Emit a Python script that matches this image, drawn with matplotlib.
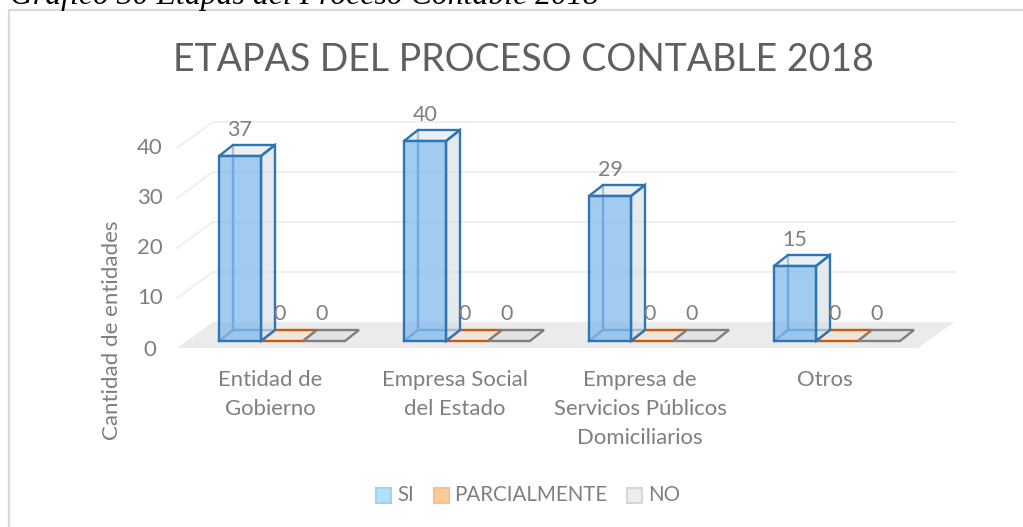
import matplotlib
matplotlib.use("Agg")
import matplotlib.pyplot as plt
from matplotlib.patches import Polygon, Rectangle
from matplotlib.lines import Line2D

W, H = 1023, 527
categories = ["Entidad de\nGobierno", "Empresa Social\ndel Estado",
              "Empresa de\nServicios Públicos\nDomiciliarios", "Otros"]
series_names = ["SI", "PARCIALMENTE", "NO"]
si = [37, 40, 29, 15]
parcial = [0, 0, 0, 0]
no = [0, 0, 0, 0]
y_ticks = [0, 10, 20, 30, 40]
title = "ETAPAS DEL PROCESO CONTABLE 2018"
caption = "Gráfico 30 Etapas del Proceso Contable 2018"
y_label = "Cantidad de entidades"

plt.rcParams["font.family"] = ["Lato", "DejaVu Sans"]
fig = plt.figure(figsize=(W / 100, H / 100), dpi=100, facecolor="white")
ax = fig.add_axes([0, 0, 1, 1])

PX_X, PX_Y = 185.0, 5.0     # pixels per category / per value unit
X0, Y0 = 282.0, 341.0       # pixel of category 0 / value 0
ax.set_xlim((0 - X0) / PX_X, (W - X0) / PX_X)
ax.set_ylim((Y0 - H) / PX_Y, (Y0 - 0) / PX_Y)
ax.axis("off")

def dx(px): return px / PX_X
def dy(px): return px / PX_Y   # upward pixels

TXT = "#7f7f7f"
# frame (left and top only)
ax.add_line(Line2D([dx(9.0 - X0)] * 2 + [dx(1023 - X0)],
                   [dy(Y0 - 527), dy(Y0 - 10), dy(Y0 - 10)],
                   color="#d9d9d9", lw=1.6, zorder=1))

# floor
fl = [(177, 348), (918, 348), (955, 322), (213, 322)]
ax.add_patch(Polygon([(dx(p - X0), dy(Y0 - q)) for p, q in fl],
                     fc="#ebebeb", ec="none", zorder=1))
# gridlines: side wall + back wall
for t in y_ticks[1:]:
    yf = t + dy(-7)
    yb = t + dy(19)
    ax.plot([dx(177 - X0), dx(213 - X0), dx(955 - X0)], [yf, yb, yb],
            color="#eeeeee", lw=1.3, zorder=1, solid_joinstyle="miter")
for t in y_ticks:
    ax.text(dx(150 - X0), t + dy(-7 if t else -8.5), str(t), ha="center",
            va="center", color=TXT, fontsize=16)

BW = 42 / PX_X
OX, OY = dx(14), dy(11)
BLUE, ORANGE, GREY = "#2e75b6", "#c55a11", "#7f7f7f"
STYLE = [(BLUE, "#7db7ea"), (ORANGE, "#f2e6dc"), (GREY, "#e2e2e2")]

def bar3d(x, v, edge, face):
    lw = 1.7
    l, r = x, x + BW
    if v > 0:
        back = "#4a8cc9"
        ax.plot([l + OX, l + OX], [OY, v + OY], color=back, lw=lw, zorder=3)
        ax.plot([l, l + OX, r + OX], [0, OY, OY], color=back, lw=lw, zorder=3)
        ax.add_patch(Polygon([(r, 0), (r + OX, OY), (r + OX, v + OY), (r, v)], fc="#d5dde3",
                             alpha=.6, ec="none", zorder=4))
        ax.add_patch(Polygon([(l, v), (r, v), (r + OX, v + OY), (l + OX, v + OY)], fc="#dfe7ec",
                             alpha=.6, ec="none", zorder=4))
        ax.add_patch(Polygon([(r, 0), (r + OX, OY), (r + OX, v + OY), (r, v)], fc="none",
                             ec=edge, lw=lw, zorder=5, joinstyle="miter"))
        ax.add_patch(Polygon([(l, v), (r, v), (r + OX, v + OY), (l + OX, v + OY)], fc="none",
                             ec=edge, lw=lw, zorder=5, joinstyle="miter"))
        ax.add_patch(Rectangle((l, 0), BW, v, fc=face, alpha=.72, ec="none", zorder=5))
        ax.add_patch(Rectangle((l, 0), BW, v, fc="none", ec=edge, lw=lw, zorder=6, joinstyle="miter"))
    else:
        ax.add_patch(Polygon([(l, 0), (r, 0), (r + OX, OY), (l + OX, OY)], fc=face,
                             ec=edge, lw=lw, zorder=3, joinstyle="miter"))

for i in range(len(categories)):
    start = i - 1.5 * BW
    for k, vals in enumerate((si, parcial, no)):
        x = start + k * BW
        bar3d(x, vals[i], *STYLE[k])
        ax.text(x + BW / 2 + dx(0 if vals[i] else -2), vals[i] + dy(26 if vals[i] else 27), str(vals[i]),
                ha="center", va="center", color=TXT, fontsize=15.5, zorder=7)
    ax.text(i - dx(12), dy(-29), categories[i], ha="center", va="top", color=TXT,
            fontsize=15.9, linespacing=1.55, zorder=7)

ax.text(dx(112 - X0), dy(Y0 - 330), y_label, rotation=90, ha="center", va="center",
        color=TXT, fontsize=16)
ax.text(dx(523 - X0), dy(Y0 - 60), title, ha="center", va="center", color="#5f5f5f",
        fontsize=27)
ax.text(dx(10 - X0), dy(Y0 - 4), caption, ha="left", va="baseline", color="black",
        fontsize=22.9, style="italic", family="Liberation Serif", clip_on=True)

# legend
LEG = [(376, 397, "#b3defc", "#9dd2f7"), (434, 454, "#fdcb95", "#f5c08c"), (627, 648, "#eeeeee", "#d6d6d6")]
for (px, tx, fc, ec), name in zip(LEG, series_names):
    ax.add_patch(Rectangle((dx(px - X0), dy(Y0 - 503)), dx(15), dy(15), fc=fc, ec=ec, lw=1.5))
    ax.text(dx(tx - X0), dy(Y0 - 495), name, ha="left", va="center", color=TXT, fontsize=14.8)

fig.savefig("out.png", dpi=100, facecolor="white")
